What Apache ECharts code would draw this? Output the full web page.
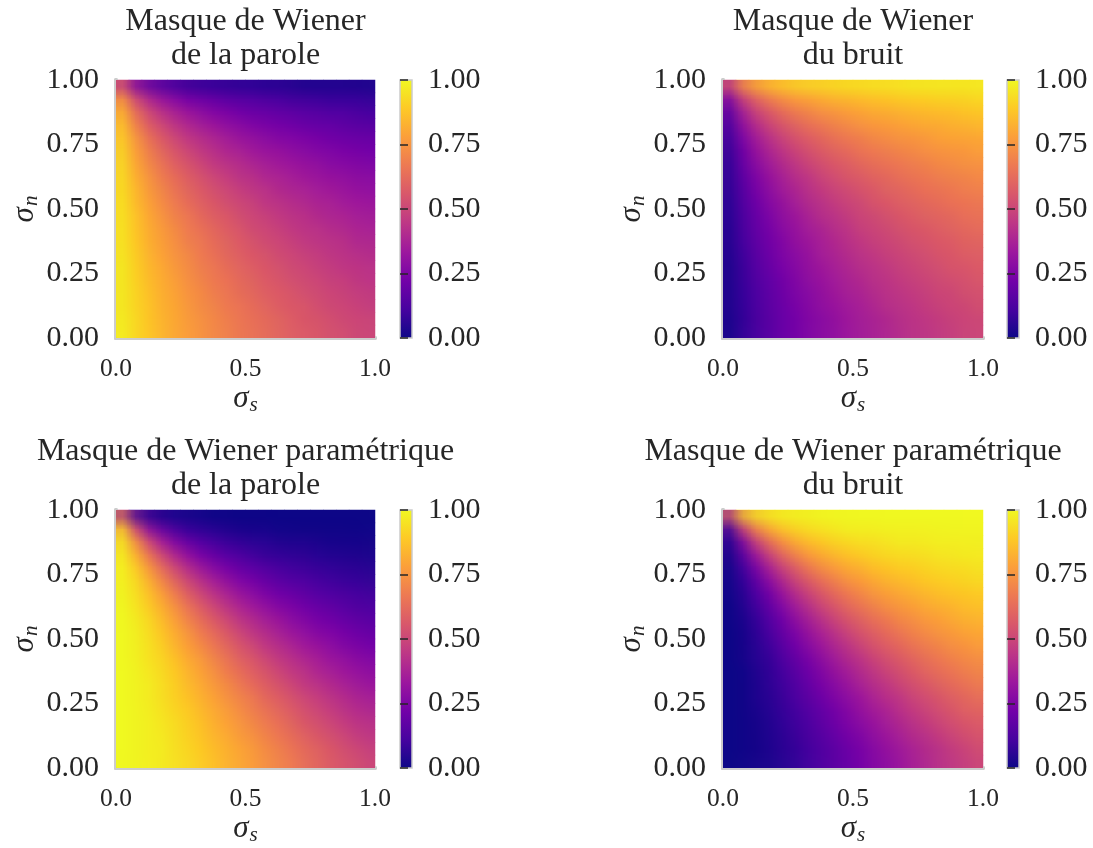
<!DOCTYPE html>
<html><head><meta charset="utf-8">
<script src="https://cdn.jsdelivr.net/npm/echarts@6/dist/echarts.min.js"></script>
<style>
html,body{margin:0;padding:0;background:#fff;}
#wrap{position:relative;width:1093px;height:848px;overflow:hidden;}
#c{position:absolute;left:0;top:0;width:1093px;height:848px;}
.smooth{position:absolute;transform-origin:0 0;z-index:2;}
</style>
</head><body><div id="wrap"><div id="c"></div></div>
<script>
// ---- data (values in %, rows from top sigma_n=1 down to sigma_n=0, columns sigma_s 0 -> 1) ----
const titles = [
  "Masque de Wiener\nde la parole",
  "Masque de Wiener\ndu bruit",
  "Masque de Wiener paramétrique\nde la parole",
  "Masque de Wiener paramétrique\ndu bruit"
];
const xTicks = ["0.0", "0.5", "1.0"];
const yTicks = ["0.00", "0.25", "0.50", "0.75", "1.00"];
const cbTicks = ["0.00", "0.25", "0.50", "0.75", "1.00"];
const xName = "σ|s";
const yName = "σ|n";

const wienerSpeech = [
[50,25,17,13,10,8,7,6,6,5,5,4,4,4,3,3,3,3,3,3],
[75,50,38,30,25,21,19,17,15,14,13,12,11,10,9,9,8,8,8,7],
[83,63,50,42,36,31,28,25,23,21,19,18,17,16,15,14,13,13,12,11],
[88,70,58,50,44,39,35,32,29,27,25,23,22,21,19,18,18,17,16,15],
[90,75,64,56,50,45,41,38,35,32,30,28,26,25,24,23,21,20,20,19],
[92,79,69,61,55,50,46,42,39,37,34,32,31,29,28,26,25,24,23,22],
[93,81,72,65,59,54,50,46,43,41,38,36,34,33,31,30,28,27,26,25],
[94,83,75,68,63,58,54,50,47,44,42,39,38,36,34,33,31,30,29,28],
[94,85,77,71,65,61,57,53,50,47,45,43,40,39,37,35,34,33,31,30],
[95,86,79,73,68,63,59,56,53,50,48,45,43,41,40,38,37,35,34,33],
[95,88,81,75,70,66,62,58,55,53,50,48,46,44,42,40,39,38,36,35],
[96,88,82,77,72,68,64,61,58,55,52,50,48,46,44,43,41,40,38,37],
[96,89,83,78,74,69,66,63,60,57,54,52,50,48,46,45,43,42,40,39],
[96,90,84,79,75,71,68,64,61,59,56,54,52,50,48,47,45,44,42,41],
[97,91,85,81,76,73,69,66,63,60,58,56,54,52,50,48,47,45,44,43],
[97,91,86,82,78,74,70,67,65,62,60,57,55,53,52,50,48,47,46,44],
[97,92,87,83,79,75,72,69,66,63,61,59,57,55,53,52,50,49,47,46],
[97,92,88,83,80,76,73,70,67,65,63,60,58,56,55,53,51,50,49,47],
[97,93,88,84,80,77,74,71,69,66,64,62,60,58,56,54,53,51,50,49],
[98,93,89,85,81,78,75,72,70,67,65,63,61,59,57,56,54,53,51,50]
];
const wienerNoise = [
[50,75,83,87,90,92,93,94,94,95,95,96,96,96,97,97,97,97,97,97],
[25,50,62,70,75,79,81,83,85,86,87,88,89,90,91,91,92,92,92,93],
[17,37,50,58,64,69,72,75,77,79,81,82,83,84,85,86,87,87,88,89],
[12,30,42,50,56,61,65,68,71,73,75,77,78,79,81,82,82,83,84,85],
[10,25,36,44,50,55,59,62,65,68,70,72,74,75,76,77,79,80,80,81],
[8,21,31,39,45,50,54,58,61,63,66,68,69,71,72,74,75,76,77,78],
[7,19,28,35,41,46,50,54,57,59,62,64,66,67,69,70,72,73,74,75],
[6,17,25,32,37,42,46,50,53,56,58,61,62,64,66,67,69,70,71,72],
[6,15,23,29,35,39,43,47,50,53,55,57,60,61,63,65,66,67,69,70],
[5,14,21,27,32,37,41,44,47,50,52,55,57,59,60,62,63,65,66,67],
[5,12,19,25,30,34,38,42,45,47,50,52,54,56,58,60,61,62,64,65],
[4,12,18,23,28,32,36,39,42,45,48,50,52,54,56,57,59,60,62,63],
[4,11,17,22,26,31,34,37,40,43,46,48,50,52,54,55,57,58,60,61],
[4,10,16,21,25,29,32,36,39,41,44,46,48,50,52,53,55,56,58,59],
[3,9,15,19,24,27,31,34,37,40,42,44,46,48,50,52,53,55,56,57],
[3,9,14,18,22,26,30,33,35,38,40,43,45,47,48,50,52,53,54,56],
[3,8,13,17,21,25,28,31,34,37,39,41,43,45,47,48,50,51,53,54],
[3,8,12,17,20,24,27,30,33,35,37,40,42,44,45,47,49,50,51,53],
[3,7,12,16,20,23,26,29,31,34,36,38,40,42,44,46,47,49,50,51],
[2,7,11,15,19,22,25,28,30,33,35,37,39,41,43,44,46,47,49,50]
];
const paramSpeech = [
[50,10,4,2,1,1,1,0,0,0,0,0,0,0,0,0,0,0,0,0],
[90,50,26,16,10,7,5,4,3,2,2,2,1,1,1,1,1,1,1,1],
[96,74,50,34,24,17,13,10,8,6,5,5,4,3,3,3,2,2,2,2],
[98,84,66,50,38,29,22,18,14,12,10,8,7,6,6,5,4,4,3,3],
[99,90,76,62,50,40,32,26,22,18,16,13,11,10,9,8,7,6,6,5],
[99,93,83,71,60,50,42,35,30,25,22,19,16,14,13,11,10,9,8,7],
[99,95,87,78,68,58,50,43,37,32,28,24,21,19,17,15,13,12,11,10],
[100,96,90,82,74,65,57,50,44,38,34,30,26,24,21,19,17,16,14,13],
[100,97,92,86,78,70,63,56,50,44,40,35,32,28,26,23,21,19,17,16],
[100,98,94,88,82,75,68,62,56,50,45,41,37,33,30,27,25,23,21,19],
[100,98,95,90,84,78,72,66,60,55,50,45,41,38,34,31,29,26,24,22],
[100,98,95,92,87,81,76,70,65,59,55,50,46,42,39,36,33,30,28,26],
[100,99,96,93,89,84,79,74,68,63,59,54,50,46,43,39,36,34,31,29],
[100,99,97,94,90,86,81,76,72,67,62,58,54,50,46,43,40,37,35,32],
[100,99,97,94,91,87,83,79,74,70,66,61,57,54,50,47,44,41,38,36],
[100,99,97,95,92,89,85,81,77,73,69,64,61,57,53,50,47,44,41,39],
[100,99,98,96,93,90,87,83,79,75,71,67,64,60,56,53,50,47,44,42],
[100,99,98,96,94,91,88,84,81,77,74,70,66,63,59,56,53,50,47,45],
[100,99,98,97,94,92,89,86,83,79,76,72,69,65,62,59,56,53,50,47],
[100,99,98,97,95,93,90,87,84,81,78,74,71,68,64,61,58,55,53,50]
];
const paramNoise = [
[50,90,96,98,99,99,99,100,100,100,100,100,100,100,100,100,100,100,100,100],
[10,50,74,84,90,93,95,96,97,98,98,98,99,99,99,99,99,99,99,99],
[4,26,50,66,76,83,87,90,92,94,95,95,96,97,97,97,98,98,98,98],
[2,16,34,50,62,71,78,82,86,88,90,92,93,94,94,95,96,96,97,97],
[1,10,24,38,50,60,68,74,78,82,84,87,89,90,91,92,93,94,94,95],
[1,7,17,29,40,50,58,65,70,75,78,81,84,86,87,89,90,91,92,93],
[1,5,13,22,32,42,50,57,63,68,72,76,79,81,83,85,87,88,89,90],
[0,4,10,18,26,35,43,50,56,62,66,70,74,76,79,81,83,84,86,87],
[0,3,8,14,22,30,37,44,50,56,60,65,68,72,74,77,79,81,83,84],
[0,2,6,12,18,25,32,38,44,50,55,59,63,67,70,73,75,77,79,81],
[0,2,5,10,16,22,28,34,40,45,50,55,59,62,66,69,71,74,76,78],
[0,2,5,8,13,19,24,30,35,41,45,50,54,58,61,64,67,70,72,74],
[0,1,4,7,11,16,21,26,32,37,41,46,50,54,57,61,64,66,69,71],
[0,1,3,6,10,14,19,24,28,33,38,42,46,50,54,57,60,63,65,68],
[0,1,3,6,9,13,17,21,26,30,34,39,43,46,50,53,56,59,62,64],
[0,1,3,5,8,11,15,19,23,27,31,36,39,43,47,50,53,56,59,61],
[0,1,2,4,7,10,13,17,21,25,29,33,36,40,44,47,50,53,56,58],
[0,1,2,4,6,9,12,16,19,23,26,30,34,37,41,44,47,50,53,55],
[0,1,2,3,6,8,11,14,17,21,24,28,31,35,38,41,44,47,50,53],
[0,1,2,3,5,7,10,13,16,19,22,26,29,32,36,39,42,45,47,50]
];

// ---- layout / style ----
const plasma = ["#0d0887","#46039f","#7201a8","#9c179e","#bd3786","#d8576b","#ed7953","#fb9f3a","#fdca26","#f0f921"];
const FONT = "Liberation Serif";
const TXT = "#262626";
const BORDER = "#cccccc";
const layout = [
  {left:116, top:80, width:259, cb:400},
  {left:723, top:80, width:260, cb:1007},
  {left:116, top:510, width:259, cb:400},
  {left:723, top:510, width:260, cb:1007}
];
const H = 258;
const datasets = [wienerSpeech, wienerNoise, paramSpeech, paramNoise];

function cells(rows) {
  const out = [];
  const n = rows.length;
  rows.forEach((row, r) => row.forEach((v, c) => out.push([c, n - 1 - r, v / 100])));
  return out;
}
function richName(s) {
  const p = s.split("|");
  return "{a|" + p[0] + "}{b|" + p[1] + "}";
}
const nameRich = {
  a: {fontFamily: FONT, fontStyle: "italic", fontSize: 31, color: TXT},
  b: {fontFamily: FONT, fontStyle: "italic", fontSize: 21, color: TXT, padding: [14, 0, 0, 1]}
};
const visualMapBase = {type: "continuous", show: false, min: 0, max: 1, dimension: 2, inRange: {color: plasma}};

const grid = [], xAxis = [], yAxis = [], series = [], title = [];
const cbGradient = {type: "linear", x: 0, y: 1, x2: 0, y2: 0,
  colorStops: plasma.map((c, i) => ({offset: i / (plasma.length - 1), color: c}))};

layout.forEach((L, p) => {
  const rows = datasets[p];
  const N = rows.length, M = rows[0].length;
  grid.push({left: L.left, top: L.top, width: L.width, height: H, show: false});
  grid.push({left: L.cb, top: L.top, width: 12, height: H, show: true,
    backgroundColor: cbGradient, borderColor: BORDER, borderWidth: 1.5});
  const g = 2 * p, gc = 2 * p + 1;
  const lineStyle = {color: BORDER, width: 4};
  xAxis.push({type: "category", gridIndex: g, position: "top", data: Array.from({length: M}, (_, i) => i),
    axisLine: {show: true, lineStyle}, axisTick: {show: false}, axisLabel: {show: false}, splitLine: {show: false}, z: 5});
  yAxis.push({type: "category", gridIndex: g, position: "right", data: Array.from({length: N}, (_, i) => i),
    axisLine: {show: true, lineStyle}, axisTick: {show: false}, axisLabel: {show: false}, splitLine: {show: false}, z: 5});
  xAxis.push({type: "value", gridIndex: g, position: "bottom", min: 0, max: 1, interval: 0.5,
    axisLine: {show: true, onZero: false, lineStyle}, axisTick: {show: false}, splitLine: {show: false}, z: 5,
    axisLabel: {fontFamily: FONT, fontSize: 25.5, color: TXT, margin: 18, formatter: v => xTicks[Math.round(v / 0.5)]},
    name: richName(xName), nameLocation: "middle", nameGap: 40, nameTextStyle: {rich: nameRich}});
  yAxis.push({type: "value", gridIndex: g, position: "left", min: 0, max: 1, interval: 0.25,
    axisLine: {show: true, onZero: false, lineStyle}, axisTick: {show: false}, splitLine: {show: false}, z: 5,
    axisLabel: {fontFamily: FONT, fontSize: 30, color: TXT, margin: 17, formatter: v => yTicks[Math.round(v / 0.25)]},
    name: richName(yName), nameLocation: "middle", nameRotate: 90, nameGap: 74, nameTextStyle: {rich: nameRich}});
  xAxis.push({type: "value", gridIndex: gc, min: 0, max: 1, show: false});
  yAxis.push({type: "value", gridIndex: gc, position: "right", min: 0, max: 1, interval: 0.25,
    axisLine: {show: false}, splitLine: {show: false},
    axisTick: {show: true, inside: false, length: 8, lineStyle: {color: TXT, width: 1.5}},
    axisLabel: {fontFamily: FONT, fontSize: 30, color: TXT, margin: 16, formatter: v => cbTicks[Math.round(v / 0.25)]}});
  series.push({type: "heatmap", xAxisIndex: 3 * p, yAxisIndex: 3 * p, data: cells(rows),
    emphasis: {disabled: true}, itemStyle: {borderWidth: 0}, progressive: 0});
  title.push({text: titles[p], left: L.left + L.width / 2, top: L.top - 75, textAlign: "center", padding: 0,
    textStyle: {fontFamily: FONT, fontSize: 32, fontWeight: "normal", color: TXT, lineHeight: 34}});
});

const chart = echarts.init(document.getElementById("c"), null, {renderer: "canvas"});
chart.setOption({
  animation: false,
  backgroundColor: "#ffffff",
  title, grid, xAxis, yAxis, series,
  visualMap: Object.assign({seriesIndex: [0, 1, 2, 3]}, visualMapBase)
});

// Smooth display of each heatmap: the same cells drawn by ECharts one pixel each,
// then shown enlarged over the plot area (like imshow's interpolation).
layout.forEach((L, p) => {
  const rows = datasets[p];
  const N = rows.length, M = rows[0].length;
  const d = document.createElement("div");
  d.className = "smooth";
  d.style.left = L.left + "px";
  d.style.top = L.top + "px";
  d.style.width = M + "px";
  d.style.height = N + "px";
  d.style.transform = "scale(" + (L.width / M) + "," + (H / N) + ")";
  document.getElementById("wrap").appendChild(d);
  const sc = echarts.init(d, null, {renderer: "canvas", devicePixelRatio: 1});
  sc.setOption({
    animation: false,
    grid: {left: 0, right: 0, top: 0, bottom: 0},
    xAxis: {type: "category", show: false, data: Array.from({length: M}, (_, i) => i)},
    yAxis: {type: "category", show: false, data: Array.from({length: N}, (_, i) => i)},
    visualMap: Object.assign({seriesIndex: 0}, visualMapBase),
    series: [{type: "heatmap", data: cells(rows), emphasis: {disabled: true}, progressive: 0}]
  });
});
</script></body></html>
